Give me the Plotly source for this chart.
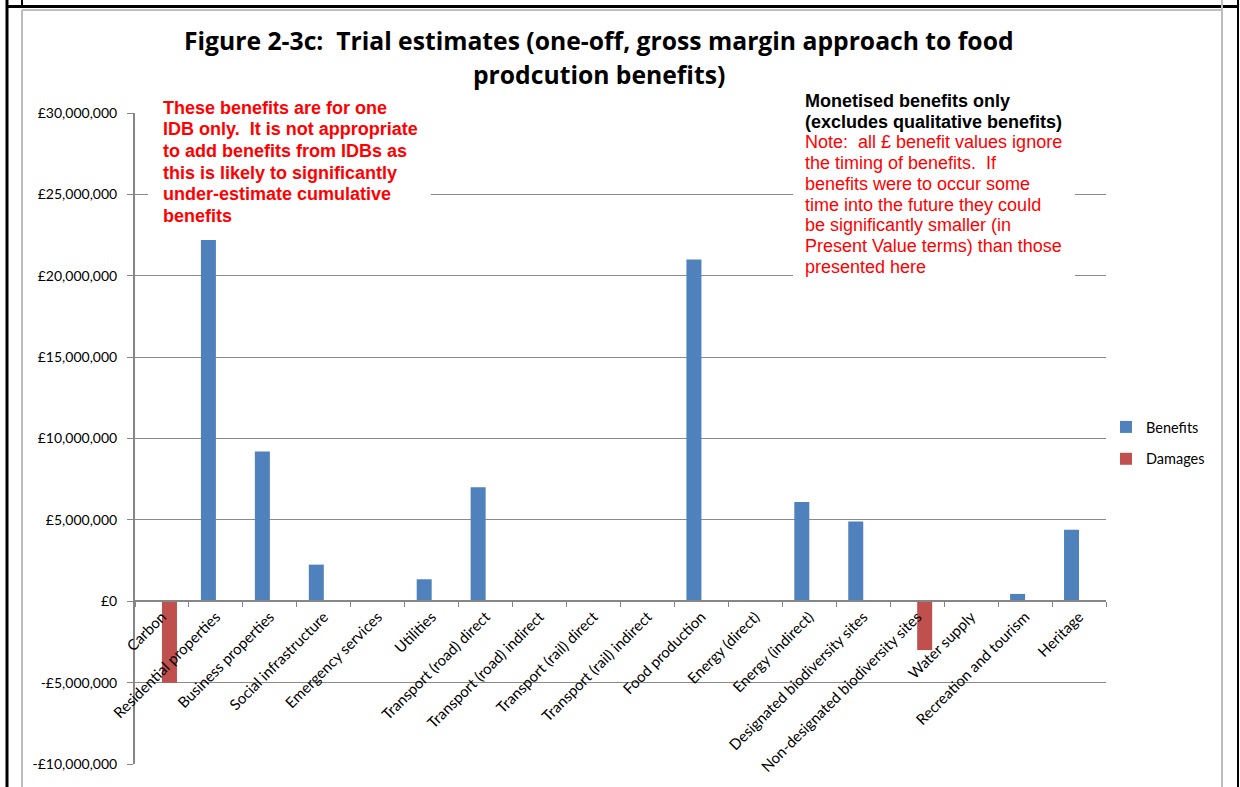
import plotly.graph_objects as go

# ---- data -------------------------------------------------------------
categories = [
    "Carbon", "Residential properties", "Business properties",
    "Social infrastructure", "Emergency services", "Utilities",
    "Transport (road) direct", "Transport (road) indirect",
    "Transport (rail) direct", "Transport (rail) indirect",
    "Food production", "Energy (direct)", "Energy (indirect)",
    "Designated biodiversity sites", "Non-designated biodiversity sites",
    "Water supply", "Recreation and tourism", "Heritage",
]
benefits = [0, 22200000, 9200000, 2250000, 0, 1350000, 7000000, 0, 0, 0,
            21000000, 0, 6100000, 4900000, 0, 0, 450000, 4400000]
damages = [-5000000, 0, 0, 0, 0, 0, 0, 0, 0, 0,
           0, 0, 0, 0, -3000000, 0, 0, 0]

y_tickvals = [-10000000, -5000000, 0, 5000000, 10000000, 15000000,
              20000000, 25000000, 30000000]
y_ticktext = ["-£10,000,000", "-£5,000,000", "£0", "£5,000,000",
              "£10,000,000", "£15,000,000", "£20,000,000", "£25,000,000",
              "£30,000,000"]

title_lines = [
    "Figure 2-3c:\u00a0 Trial estimates (one-off, gross margin approach to food",
    "prodcution benefits)",
]
caveat_lines = [
    "These benefits are for one",
    "IDB only.\u00a0 It is not appropriate",
    "to add benefits from IDBs as",
    "this is likely to significantly",
    "under-estimate cumulative",
    "benefits",
]
scope_lines = [
    "Monetised benefits only",
    "(excludes qualitative benefits)",
]
note_lines = [
    "Note:\u00a0 all £ benefit values ignore",
    "the timing of benefits.\u00a0 If",
    "benefits were to occur some",
    "time into the future they could",
    "be significantly smaller (in",
    "Present Value terms) than those",
    "presented here",
]

# ---- page geometry (pixels) ------------------------------------------
W, H = 1240, 787
L, R, T, B = 135, 1106, 113, 764          # plot area edges
PW, PH = R - L, B - T


def px(x):
    return (x - L) / PW


def py(y):
    return (B - y) / PH


BLUE = "#4F81BD"
RED = "#C0504D"
GRID = "#8A8A8A"
AXIS = "#868686"
FONT = "Lato"

fig = go.Figure()
fig.add_trace(go.Bar(name="Benefits", x=categories, y=benefits,
                     marker=dict(color=BLUE, line=dict(width=0)),
                     legendgroup="b"))
fig.add_trace(go.Bar(name="Damages", x=categories, y=damages,
                     marker=dict(color=RED, line=dict(width=0)),
                     legendgroup="d"))

y_min, y_max = y_tickvals[0], y_tickvals[-1]
zero_frac = (0 - y_min) / (y_max - y_min)

fig.update_layout(
    width=W, height=H,
    margin=dict(l=L, r=W - R, t=T, b=H - B, pad=0),
    paper_bgcolor="white", plot_bgcolor="white",
    barmode="group", bargap=0.444, bargroupgap=0,
    font=dict(family=FONT, size=14, color="black"),
    showlegend=True,
    legend=dict(x=px(1106), y=py(443), xanchor="left", yanchor="middle",
                font=dict(family=FONT, size=14.5, color="black"),
                tracegroupgap=10, bgcolor="rgba(0,0,0,0)"),
    xaxis=dict(
        type="category", anchor="free", position=zero_frac,
        showline=True, linecolor=AXIS, linewidth=2,
        ticks="outside", tickson="boundaries", ticklen=5,
        tickcolor=AXIS, tickwidth=1,
        tickangle=-45, showgrid=False, zeroline=False,
        tickfont=dict(family=FONT, size=15, color="black"),
    ),
    yaxis=dict(
        range=[y_min, y_max], tickvals=y_tickvals, ticktext=y_ticktext,
        showline=True, linecolor=AXIS, linewidth=2,
        ticks="outside", ticklen=6, tickcolor=AXIS, tickwidth=1,
        ticklabelstandoff=7,
        showgrid=True, gridcolor=GRID, gridwidth=1, zeroline=False,
        tickfont=dict(family=FONT, size=14, color="black"),
    ),
)

shapes = []
# outer frame of the page cell
line_specs = [
    (7, 0, 7, H, "black", 3),
    (7, 6.5, 1238, 6.5, "black", 3),
    (1238, 0, 1238, H, "black", 2),
    (22, 0, 22, 7, "black", 2),
    (22, 10, 22, H, "#BDBDBD", 2),
    (22, 10, 1222, 10, "#BDBDBD", 2),
    (1222, 0, 1222, H, "#BDBDBD", 2),
]
for x0, y0, x1, y1, c, w in line_specs:
    shapes.append(dict(type="line", xref="paper", yref="paper",
                       x0=px(x0), y0=py(y0), x1=px(x1), y1=py(y1),
                       line=dict(color=c, width=w), layer="above"))
# white text boxes hiding the gridlines behind the notes
for x0, y0, x1, y1 in [(148, 86, 431, 230), (793, 84, 1075, 283)]:
    shapes.append(dict(type="rect", xref="paper", yref="paper",
                       x0=px(x0), y0=py(y0), x1=px(x1), y1=py(y1),
                       fillcolor="white", line=dict(width=0), layer="above"))
fig.update_layout(shapes=shapes)

ann = []
for i, t in enumerate(title_lines):
    ann.append(dict(text=t, xref="paper", yref="paper", x=px(599),
                    y=py(40 + 35 * i), xanchor="center", yanchor="middle",
                    showarrow=False,
                    font=dict(family="Open Sans", size=24.7, color="black",
                              weight="bold")))
for i, t in enumerate(caveat_lines):
    ann.append(dict(text=t, xref="paper", yref="paper", x=px(161),
                    y=py(108 + 21.5 * i), xanchor="left", yanchor="middle",
                    showarrow=False,
                    font=dict(family="Liberation Sans", size=18,
                              color="#FF0000", weight="bold")))
for i, t in enumerate(scope_lines + note_lines):
    bold = i < len(scope_lines)
    ann.append(dict(text=t, xref="paper", yref="paper", x=px(803),
                    y=py(101 + 20.7 * i), xanchor="left", yanchor="middle",
                    showarrow=False,
                    font=dict(family="Liberation Sans", size=18,
                              color="black" if bold else "#FF0000",
                              weight="bold" if bold else "normal")))
fig.update_layout(annotations=ann)

fig.write_html("out.html")
